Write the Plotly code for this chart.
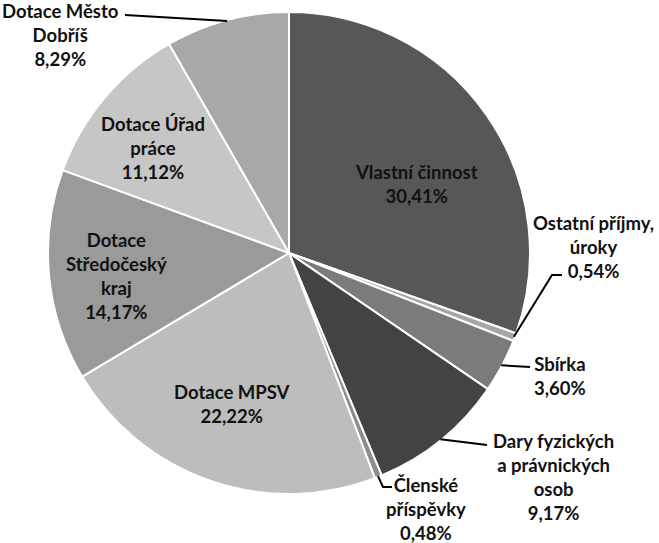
import math
import plotly.graph_objects as go

labels = ["Vlastní činnost", "Ostatní příjmy, úroky", "Sbírka",
          "Dary fyzických a právnických osob", "Členské příspěvky",
          "Dotace MPSV", "Dotace Středočeský kraj", "Dotace Úřad práce",
          "Dotace Město Dobříš"]
values = [30.41, 0.54, 3.60, 9.17, 0.48, 22.22, 14.17, 11.12, 8.29]
label_text = ["Vlastní činnost", "Ostatní příjmy,<br>úroky", "Sbírka",
              "Dary fyzických<br>a právnických<br>osob", "Členské<br>příspěvky",
              "Dotace MPSV", "Dotace<br>Středočeský<br>kraj", "Dotace Úřad<br>práce",
              "Dotace Město<br>Dobříš"]
colors = ["#575757", "#a6a6a6", "#7b7b7b", "#434343", "#8c8c8c",
          "#bdbdbd", "#9a9a9a", "#c6c6c6", "#a8a8a8"]

W, H = 659, 543
CX, CY, R = 289, 253, 241

def px(x):
    return x / W

def py(y):
    return 1 - y / H

fig = go.Figure(go.Pie(
    labels=labels, values=values, sort=False, direction="clockwise",
    rotation=0, textinfo="none", hoverinfo="label+percent",
    marker=dict(colors=colors, line=dict(color="white", width=2)),
    domain=dict(x=[px(CX - R), px(CX + R)], y=[py(CY + R), py(CY - R)]),
    showlegend=False,
))

# label centre positions (pixels)
label_pos = [(416, 184), (593, 247), (560, 376), (553, 477), (426, 509),
             (232, 404), (116, 276), (153, 148), (60, 35)]
# leader line path after the slice edge point
leaders = {
    1: [(552, 275), (562, 275)],
    2: [(530, 367)],
    3: [(487, 445)],
    4: [(383, 487), (392, 487)],
    8: [(125, 15)],
}

total = sum(values)
cum = 0
for i, v in enumerate(values):
    mid = (cum + v / 2) / total * 2 * math.pi
    cum += v
    pct = f"{v:.2f}".replace(".", ",") + "%"
    x, y = label_pos[i]
    fig.add_annotation(
        x=px(x), y=py(y), xref="paper", yref="paper",
        text=f"<b>{label_text[i]}<br>{pct}</b>", showarrow=False,
        font=dict(family="Lato", size=18.5, color="#111111"),
        align="center", xanchor="center", yanchor="middle",
    )
    if i in leaders:
        sx = CX + (R - 1) * math.sin(mid)
        sy = CY - (R - 1) * math.cos(mid)
        pts = [(sx, sy)] + leaders[i]
        path = "M " + " L ".join(f"{px(a)},{py(b)}" for a, b in pts)
        fig.add_shape(type="path", path=path, xref="paper", yref="paper",
                      line=dict(color="black", width=2))

fig.update_layout(
    width=W, height=H, margin=dict(l=0, r=0, t=0, b=0),
    paper_bgcolor="white", plot_bgcolor="white",
    font=dict(family="Lato"),
)
fig.write_html("out.html", config={"displayModeBar": False},
               post_script="document.body.style.margin='0';")
